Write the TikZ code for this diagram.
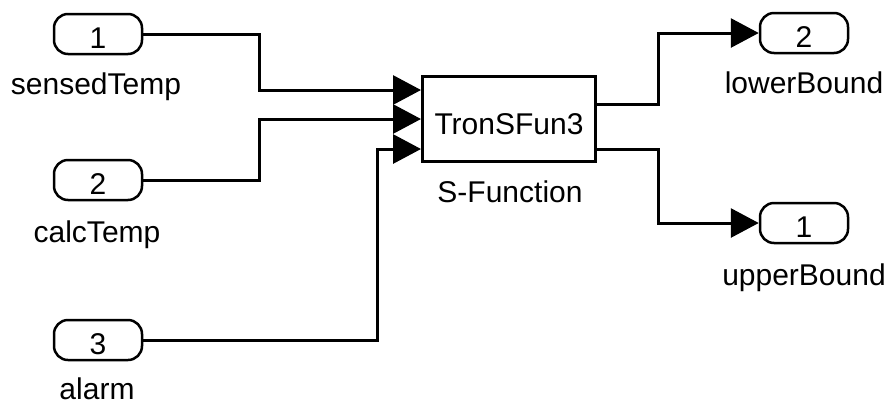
\documentclass[tikz,border=0pt]{standalone}
\usepackage{fontspec}
\setmainfont{Liberation Sans}
\usetikzlibrary{arrows.meta}
\begin{document}
\begin{tikzpicture}[x=1pt,y=-1pt,
  every node/.style={font=\fontsize{30}{36}\selectfont},
  port/.style={draw, line width=2.5pt, rounded corners=14pt, minimum width=88pt, minimum height=40pt, inner sep=0pt, text height=28pt, text depth=0pt},
  lbl/.style={anchor=base, inner sep=0pt},
  blockbox/.style={draw, line width=3pt, minimum width=173pt, minimum height=85pt, inner sep=0pt, text height=31pt, text depth=0pt},
  wire/.style={line width=3pt},
  arr/.style={wire, -{Triangle[length=28pt,width=29pt]}}
]
\useasboundingbox (0,0) rectangle (888,405);

% inports
\node[port] (in1) at (98,34) {1};
\node[port] (in2) at (98,180) {2};
\node[port] (in3) at (98,340) {3};
\node[lbl] (lin1) at (96,94) {sensedTemp};
\node[lbl] (lin2) at (97,242) {calcTemp};
\node[lbl] (lin3) at (97,399) {alarm};

% block
\node[blockbox] (blk) at (509,119) {TronSFun3};
\node[lbl] (lblk) at (510,202) {S-Function};

% outports
\node[port] (out2) at (804,33) {2};
\node[port] (out1) at (804,223) {1};
\node[lbl] (lout2) at (804,93) {lowerBound};
\node[lbl] (lout1) at (804,285) {upperBound};

% port points on block
\coordinate (p1) at (421,90);
\coordinate (p2) at (421,119);
\coordinate (p3) at (421,149);
\coordinate (q1) at (597,104);
\coordinate (q2) at (597,149);

% wires
\draw[arr] (in1.east) -- ++(116,0) |- (p1);
\draw[arr] (in2.east) -- ++(116,0) |- (p2);
\draw[arr] (in3.east) -- ++(234,0) |- (p3);
\draw[arr] (q1) -- ++(61,0) |- (out2.west);
\draw[arr] (q2) -- ++(61,0) |- (out1.west);
\end{tikzpicture}
\end{document}
